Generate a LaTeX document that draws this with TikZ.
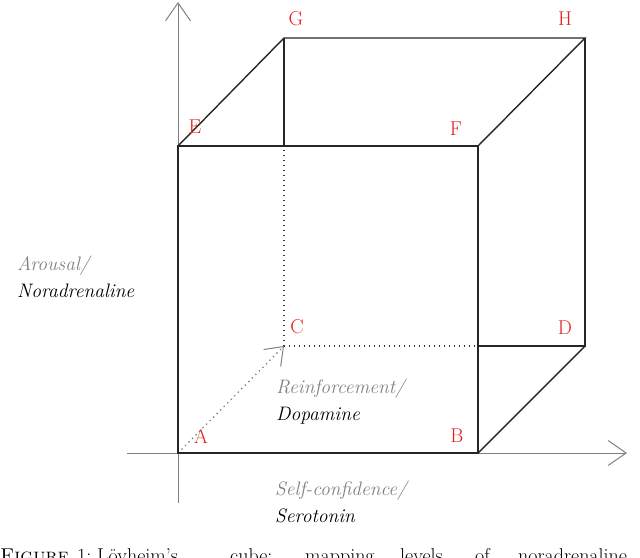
\documentclass[tikz,border=0pt]{standalone}
\usepackage{tikz}
\usetikzlibrary{arrows.meta,positioning,calc}

\definecolor{axisgray}{RGB}{128,128,128}
\definecolor{labelred}{RGB}{230,30,30}

\begin{document}
\begin{tikzpicture}[
    x=1pt, y=-1pt,
    edge/.style={draw, line width=1.4pt, black!85},
    hidden/.style={draw, line width=1.3pt, dash pattern=on 1.3pt off 3.7pt, black!80},
    axis/.style={draw, line width=1pt, axisgray, -{Straight Barb[length=18pt, width=25pt, line width=1pt]}},
    corner/.style={text=labelred, font=\fontsize{20}{22}\selectfont, inner sep=0pt},
    axlabel/.style={font=\fontsize{19.5}{27}\selectfont\itshape, align=left, inner sep=0pt, anchor=base west}
]
    \useasboundingbox (0,0) rectangle (640,557);
    \clip (0,0) rectangle (640,557);

    % Cube corners
    \coordinate (A) at (178,453);
    \coordinate (B) at (478,453);
    \coordinate (C) at (284,346);
    \coordinate (D) at (585,346);
    \coordinate (E) at (178,146);
    \coordinate (F) at (478,146);
    \coordinate (G) at (284,38);
    \coordinate (H) at (585,38);

    % Axes
    \coordinate (yfoot) at (178,503);
    \coordinate (ytip) at (178,2);
    \coordinate (xfoot) at (127,453);
    \coordinate (xtip) at (627,453);
    \path[axis] (yfoot) -- (ytip);
    \path[axis] (xfoot) -- (xtip);

    % Hidden edges
    \path[hidden] (C) -- (C |- E);
    \path[hidden] (C) -- (B |- C);
    \path[hidden, draw=axisgray, -{Straight Barb[length=16pt, width=24pt, line width=1pt]}] (A) -- (C);

    % Visible edges
    \path[edge] (A) -- (B) -- (F) -- (E) -- cycle;
    \path[edge] (E) -- (G) -- (H) -- (F);
    \path[edge] (C |- E) -- (G);
    \path[edge] (H) -- (D) -- (B |- C);
    \path[edge] (B) -- (D);

    % Corner labels
    \node[corner] (lA) at (201,436) {A};
    \node[corner] (lB) at (457,436) {B};
    \node[corner] (lC) at (297,327) {C};
    \node[corner] (lD) at (565,328) {D};
    \node[corner] (lE) at (195,127) {E};
    \node[corner] (lF) at (456,129) {F};
    \node[corner] (lG) at (296,19) {G};
    \node[corner] (lH) at (565,19) {H};

    % Axis labels
    \node[axlabel] (arousal) at (17,297) {\textcolor{axisgray}{Arousal/}\\Noradrenaline};
    \node[axlabel] (reinf) at (276,420) {\textcolor{axisgray}{Reinforcement/}\\Dopamine};
    \node[axlabel] (selfc) at (275,522) {\textcolor{axisgray}{Self-confidence/}\\Serotonin};

    % Caption
    \node[anchor=base west, inner sep=0pt, font=\fontsize{20}{22}\selectfont] (caption) at (0,562)
        {\makebox[77pt][l]{\textsc{Figure}}\makebox[20pt][l]{1:}\makebox[133pt][l]{Lövheim's}\makebox[75pt][l]{cube:}\makebox[95pt][l]{mapping}\makebox[75pt][l]{levels}\makebox[43pt][l]{of}noradrenaline};
\end{tikzpicture}
\end{document}
